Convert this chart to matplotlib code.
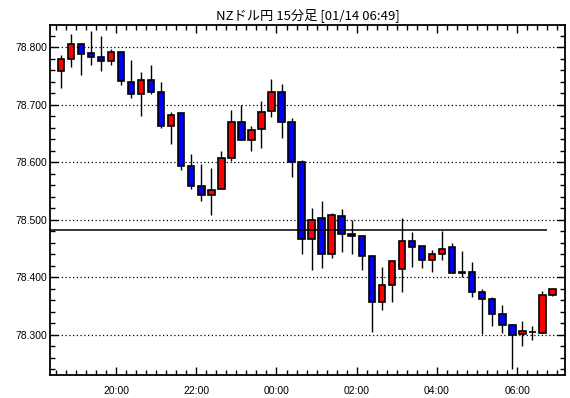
import matplotlib
matplotlib.use("Agg")
import matplotlib.pyplot as plt
import matplotlib.dates as mdates
import pandas as pd
from matplotlib.ticker import MultipleLocator, FormatStrFormatter

title = "NZドル円 15分足 [01/14 06:49]"
times = pd.date_range("2025-01-13 18:30", periods=50, freq="15min")
opens = [78.758, 78.779, 78.805, 78.790, 78.784, 78.777, 78.791, 78.739, 78.718, 78.743,
         78.723, 78.663, 78.685, 78.593, 78.558, 78.543, 78.553, 78.607, 78.670, 78.638,
         78.658, 78.689, 78.722, 78.670, 78.600, 78.466, 78.503, 78.440, 78.506, 78.475,
         78.472, 78.437, 78.357, 78.386, 78.414, 78.463, 78.454, 78.430, 78.440, 78.452,
         78.407, 78.410, 78.374, 78.362, 78.336, 78.317, 78.301, 78.305, 78.304, 78.370]
highs = [78.787, 78.823, 78.807, 78.828, 78.819, 78.797, 78.794, 78.778, 78.757, 78.769,
         78.739, 78.687, 78.685, 78.614, 78.597, 78.590, 78.620, 78.691, 78.700, 78.664,
         78.707, 78.745, 78.736, 78.677, 78.604, 78.521, 78.533, 78.512, 78.519, 78.500,
         78.474, 78.438, 78.418, 78.428, 78.503, 78.478, 78.454, 78.447, 78.481, 78.459,
         78.446, 78.427, 78.379, 78.366, 78.352, 78.318, 78.324, 78.315, 78.376, 78.379]
lows = [78.730, 78.766, 78.752, 78.770, 78.758, 78.770, 78.734, 78.712, 78.680, 78.719,
        78.659, 78.631, 78.586, 78.553, 78.532, 78.509, 78.553, 78.603, 78.638, 78.620,
        78.625, 78.678, 78.643, 78.575, 78.440, 78.413, 78.417, 78.434, 78.444, 78.440,
        78.413, 78.305, 78.343, 78.357, 78.374, 78.418, 78.416, 78.410, 78.430, 78.407,
        78.400, 78.366, 78.302, 78.316, 78.303, 78.241, 78.281, 78.291, 78.304, 78.367]
closes = [78.779, 78.805, 78.789, 78.784, 78.777, 78.791, 78.741, 78.718, 78.743, 78.723,
          78.663, 78.683, 78.594, 78.558, 78.543, 78.551, 78.607, 78.670, 78.638, 78.657,
          78.687, 78.722, 78.670, 78.600, 78.466, 78.499, 78.440, 78.508, 78.475, 78.471,
          78.437, 78.357, 78.386, 78.428, 78.463, 78.453, 78.430, 78.440, 78.450, 78.407,
          78.410, 78.374, 78.362, 78.336, 78.317, 78.299, 78.306, 78.305, 78.370, 78.379]
ref_price = 78.4826

fig = plt.figure(figsize=(5.70, 3.98), dpi=100)
ax = fig.add_axes([50/570, 1-375/398, 515/570, 350/398])

step = pd.Timedelta(minutes=15)
centers = mdates.date2num(times + step/2)
w = (step / pd.Timedelta(days=1)) * 0.65

ax.vlines(centers, lows, highs, color="black", linewidth=1, zorder=2)
bottoms = [min(o, c) for o, c in zip(opens, closes)]
heights = [abs(c - o) for o, c in zip(opens, closes)]
colors = ["#ff0000" if c >= o else "#0000ff" for o, c in zip(opens, closes)]
ax.bar(centers, heights, bottom=bottoms, width=w, color=colors,
       edgecolor="black", linewidth=1.2, zorder=3)

xl = mdates.date2num(pd.Timestamp("2025-01-13 18:21:24"))
xr = mdates.date2num(pd.Timestamp("2025-01-14 07:11:18"))
ax.set_xlim(xl, xr)
ax.set_ylim(78.2301, 78.8388)

ax.hlines(ref_price, xl, mdates.date2num(times[-1]), color="black", linewidth=1.1, zorder=4)

ax.xaxis.set_major_locator(mdates.HourLocator(byhour=range(0, 24, 2)))
ax.xaxis.set_minor_locator(mdates.MinuteLocator(byminute=[0, 15, 30, 45]))
ax.xaxis.set_major_formatter(mdates.DateFormatter("%H:%M"))
ax.yaxis.set_major_locator(MultipleLocator(0.1))
ax.yaxis.set_minor_locator(MultipleLocator(0.02))
ax.yaxis.set_major_formatter(FormatStrFormatter("%.3f"))

ax.tick_params(which="both", direction="in", top=True, right=True, width=1)
ax.tick_params(which="major", length=6)
ax.tick_params(which="minor", length=3.5)
ax.tick_params(axis="x", which="major", pad=8)
ax.tick_params(axis="y", which="major", pad=2)
for lab in ax.get_xticklabels() + ax.get_yticklabels():
    lab.set_fontfamily("Liberation Sans")
    lab.set_fontsize(7.5)

ax.yaxis.grid(True, which="major", linestyle=(0, (1, 2)), color="black", linewidth=0.9)
ax.set_axisbelow(True)
for s in ax.spines.values():
    s.set_linewidth(1.3)

fig.text((50 + 565) / 2 / 570, 1 - 15.5/398, title, ha="center", va="center",
         fontsize=9.5, family=["Noto Sans CJK JP", "DejaVu Sans"])

fig.savefig("out.png", dpi=100)
